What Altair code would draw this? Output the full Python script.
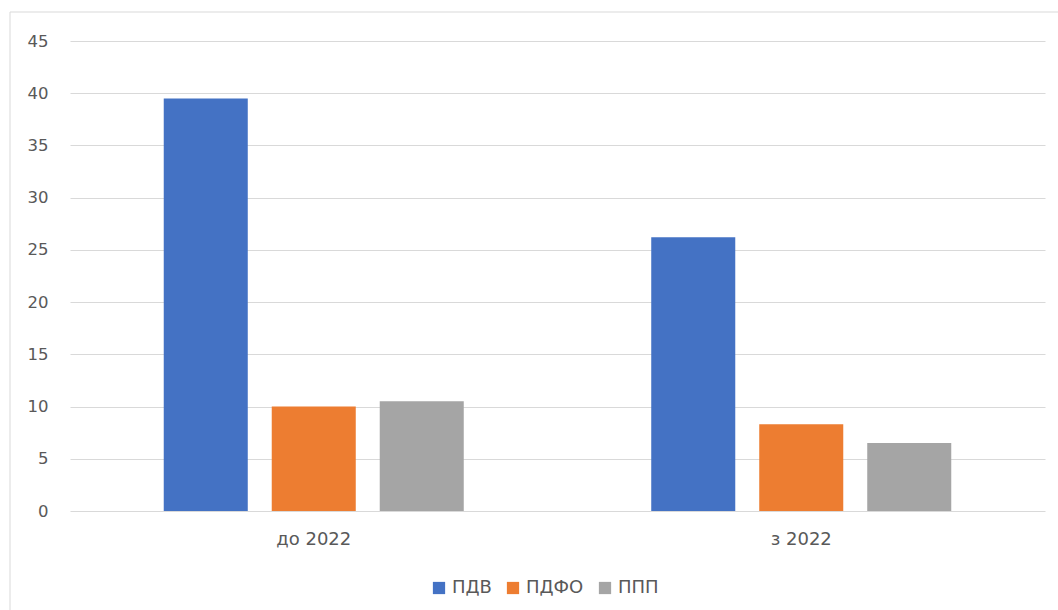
import altair as alt
import pandas as pd

periods = ["до 2022", "з 2022"]
series = ["ПДВ", "ПДФО", "ППП"]
values_pdv = [39.5, 26.2]
values_pdfo = [10.0, 8.3]
values_ppp = [10.5, 6.5]
colors = ["#4472C4", "#ED7D31", "#A5A5A5"]

rows = []
for i, p in enumerate(periods):
    for s, vals in zip(series, [values_pdv, values_pdfo, values_ppp]):
        rows.append({"period": p, "series": s, "value": vals[i]})
df = pd.DataFrame(rows)

FONT = "DejaVu Sans"
TXT = "#595959"

bars = alt.Chart(df).mark_bar().encode(
    x=alt.X("period:N", sort=periods, title=None,
            scale=alt.Scale(paddingInner=0, paddingOuter=0),
            axis=alt.Axis(labelAngle=0, ticks=False, domain=False, grid=False,
                          labelFontSize=18, labelColor=TXT, labelFont=FONT,
                          labelPadding=19)),
    xOffset=alt.XOffset("series:N", sort=series,
                        scale=alt.Scale(paddingInner=0.222, paddingOuter=0.868)),
    y=alt.Y("value:Q", title=None,
            scale=alt.Scale(domain=[0, 45], nice=False),
            axis=alt.Axis(values=list(range(0, 50, 5)), ticks=False, domain=False,
                          gridColor="#D9D9D9", gridWidth=1,
                          labelFontSize=16.5, labelColor=TXT, labelFont=FONT,
                          labelPadding=22)),
    color=alt.Color("series:N", sort=series,
                    scale=alt.Scale(domain=series, range=colors),
                    legend=alt.Legend(title=None, orient="none", direction="horizontal",
                                      legendX=360, legendY=538,
                                      symbolType="square", symbolSize=150,
                                      symbolStrokeWidth=0,
                                      labelFontSize=18, labelColor=TXT, labelFont=FONT,
                                      columnPadding=12, symbolOffset=0, labelOffset=4)),
)

frame = alt.Chart(pd.DataFrame({"k": [0]})).mark_rect(
    fill=None, stroke="#D9D9D9", strokeWidth=1
).encode(
    x=alt.value(-60), x2=alt.value(1000), y=alt.value(-29), y2=alt.value(590)
)

chart = alt.layer(frame, bars).properties(
    width=975, height=470,
    autosize=alt.AutoSizeParams(type="none"),
    padding={"left": 70, "top": 41, "right": 13, "bottom": 99},
    background="white",
).configure_view(stroke=None)

chart.save("out.html", embed_options={"renderer": "svg", "actions": False})
